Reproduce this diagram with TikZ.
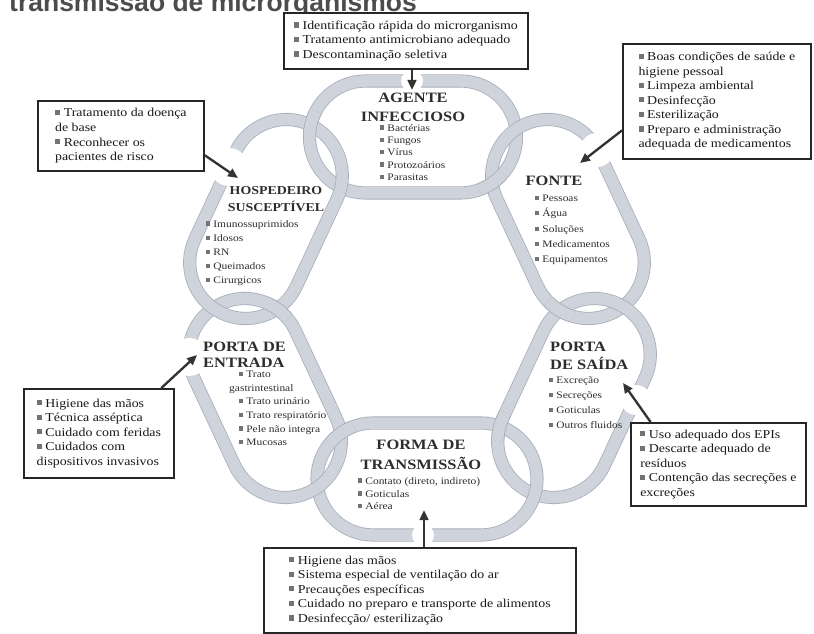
\documentclass[tikz,border=0pt]{standalone}
\usepackage{fontspec}
\setmainfont{Liberation Serif}[FakeStretch=1.15]
\newfontfamily\titulofonte{Liberation Sans}
\usetikzlibrary{intersections,arrows.meta}

\definecolor{eloCor}{RGB}{207,212,220}
\definecolor{eloBorda}{RGB}{168,174,186}
\definecolor{textoCor}{RGB}{45,45,45}

% 小方块记号
\newcommand{\marc}{\textcolor{black!55}{\rule[0.15em]{0.42em}{0.42em}}\hspace{0.3em}}
% 环的路径 (半长 #1, 半径 56)
\newcommand{\caminhoelo}[1]{(-#1,-56) -- (#1,-56) arc[start angle=-90, end angle=90, radius=56] -- (-#1,56) arc[start angle=90, end angle=270, radius=56] -- cycle}

\begin{document}
\begin{tikzpicture}[x=0.03cm, y=0.03cm,
    elo/.style={draw=eloBorda, double=eloCor, line width=0.7pt, double distance=0.345cm},
    caixa/.style={draw=black!85, line width=1.5pt, fill=white, align=left, anchor=north west,
      inner sep=0.15cm, text=black!90, font=\fontsize{10.3}{12.4}\selectfont},
    titulo/.style={inner sep=0pt, text=textoCor},
    itens/.style={anchor=north west, align=left, inner sep=0pt, text=textoCor},
    seta/.style={draw=black!80, line width=2pt, -{Triangle[length=0.3cm, width=0.26cm]}}]
    \useasboundingbox (0,0) rectangle (814,633);

    % 标题 (上方被截断)
    \node[anchor=base west, inner sep=0pt, text=black!70,
      font=\titulofonte\bfseries\fontsize{22.6}{26}\selectfont] (tituloGeral) at (9,621) {transmissão de microrganismos};

    % 环的中心
    \coordinate (agente) at (413,496);
    \coordinate (fonte) at (568,414);
    \coordinate (saida) at (574,235);
    \coordinate (forma) at (427,154);
    \coordinate (entrada) at (265,235);
    \coordinate (hosp) at (266,414);

    % 六个环
    \foreach \n/\ang/\h in {agente/0/47.5, fonte/-65/48, saida/65/48, forma/0/54, entrada/-65/48, hosp/65/48}
      \draw[elo, shift={(\n)}, rotate=\ang, name path global=\n] \caminhoelo{\h};

    % 交叉处重画, 形成链
    \foreach \a/\b/\ang/\h in {agente/fonte/0/47.5, fonte/saida/-65/48, saida/forma/65/48,
        forma/entrada/0/54, entrada/hosp/-65/48, agente/hosp/0/47.5}{
      \path[name intersections={of={\a} and {\b}, by=cruz}];
      \begin{scope}
        \clip (cruz) circle (15);
        \draw[elo, shift={(\a)}, rotate=\ang] \caminhoelo{\h};
      \end{scope}
    }

    % 箭头穿过的缺口
    \foreach \p/\r in {{412,552}/11, {423,98}/11, {229,466}/19, {597,483}/17, {189,276}/19, {636,233}/15}
      \fill[white] (\p) circle (\r);

    % 环内文字
    \node[titulo, align=center, font=\fontsize{12.2}{16.2}\selectfont\bfseries] (tAgente) at (413,525.5) {AGENTE\\INFECCIOSO};
    \node[itens, font=\fontsize{8.5}{10.5}\selectfont] (iAgente) at (380,509)
      {\marc Bactérias\\ \marc Fungos\\ \marc Vírus\\ \marc Protozoários\\ \marc Parasitas};

    \node[titulo, align=center, font=\fontsize{10.3}{14.5}\selectfont\bfseries] (tHosp) at (276,433.5) {HOSPEDEIRO\\SUSCEPTÍVEL};
    \node[itens, font=\fontsize{8.5}{12}\selectfont] (iHosp) at (206,413)
      {\marc Imunossuprimidos\\ \marc Idosos\\ \marc RN\\ \marc Queimados\\ \marc Cirurgicos};

    \node[titulo, font=\fontsize{12.2}{15}\selectfont\bfseries] (tFonte) at (554,452) {FONTE};
    \node[itens, font=\fontsize{8.5}{13}\selectfont] (iFonte) at (535,438)
      {\marc Pessoas\\ \marc Água\\ \marc Soluções\\ \marc Medicamentos\\ \marc Equipamentos};

    \node[titulo, anchor=west, align=left, font=\fontsize{12.2}{13.7}\selectfont\bfseries] (tEntrada) at (203,278) {PORTA DE\\ENTRADA};
    \node[itens, font=\fontsize{8.5}{11.6}\selectfont] (iEntrada) at (229,262)
      {\hspace*{1em}\marc Trato\\ gastrintestinal\\ \hspace*{1em}\marc Trato urinário\\
       \hspace*{1em}\marc Trato respiratório\\ \hspace*{1em}\marc Pele não integra\\ \hspace*{1em}\marc Mucosas};

    \node[titulo, anchor=west, align=left, font=\fontsize{12.2}{15.5}\selectfont\bfseries] (tSaida) at (550,277) {PORTA\\DE SAÍDA};
    \node[itens, font=\fontsize{8.5}{12.8}\selectfont] (iSaida) at (549,256)
      {\marc Excreção\\ \marc Secreções\\ \marc Goticulas\\ \marc Outros fluidos};

    \node[titulo, align=center, font=\fontsize{12.2}{17}\selectfont\bfseries] (tForma) at (421,178) {FORMA DE\\TRANSMISSÃO};
    \node[itens, font=\fontsize{8.5}{11}\selectfont] (iForma) at (358,156)
      {\marc Contato (direto, indireto)\\ \marc Goticulas\\ \marc Aérea};

    % 措施框
    \node[caixa, minimum width=7.32cm, minimum height=1.68cm] (caixaAgente) at (283,621)
      {\marc Identificação rápida do microrganismo\\ \marc Tratamento antimicrobiano adequado\\ \marc Descontaminação seletiva};
    \node[caixa, minimum width=5.64cm, minimum height=3.45cm] (caixaFonte) at (622,590)
      {\marc Boas condições de saúde e\\ higiene pessoal\\ \marc Limpeza ambiental\\ \marc Desinfecção\\
       \marc Esterilização\\ \marc Preparo e administração\\ adequada de medicamentos};
    \node[caixa, minimum width=4.98cm, minimum height=2.1cm] (caixaHosp) at (37,533)
      {\marc Tratamento da doença\\ de base\\ \marc Reconhecer os\\ pacientes de risco};
    \node[caixa, minimum width=4.5cm, minimum height=2.67cm] (caixaEntrada) at (23,245)
      {\marc Higiene das mãos\\ \marc Técnica asséptica\\ \marc Cuidado com feridas\\ \marc Cuidados com\\ dispositivos invasivos};
    \node[caixa, minimum width=5.25cm, minimum height=2.49cm] (caixaSaida) at (630,211)
      {\marc Uso adequado dos EPIs\\ \marc Descarte adequado de\\ resíduos\\ \marc Contenção das secreções e\\ excreções};
    \node[caixa, minimum width=9.36cm, minimum height=2.55cm] (caixaForma) at (263,86)
      {\marc Higiene das mãos\\ \marc Sistema especial de ventilação do ar\\ \marc Precauções específicas\\
       \marc Cuidado no preparo e transporte de alimentos\\ \marc Desinfecção/ esterilização};

    % 箭头
    \coordinate (pAgente) at (412,543);
    \coordinate (pFonte) at (580,470);
    \coordinate (pHosp) at (238,455);
    \coordinate (pEntrada) at (197,278);
    \coordinate (pSaida) at (623,250);
    \coordinate (pForma) at (424,123);
    \draw[seta] (caixaAgente.south -| pAgente) -- (pAgente);
    \draw[seta] (caixaFonte.197) -- (pFonte);
    \draw[seta] (caixaHosp.347) -- (pHosp);
    \draw[seta] (caixaEntrada.36) -- (pEntrada);
    \draw[seta] (caixaSaida.148) -- (pSaida);
    \draw[seta] (caixaForma.north -| pForma) -- (pForma);
\end{tikzpicture}
\end{document}
